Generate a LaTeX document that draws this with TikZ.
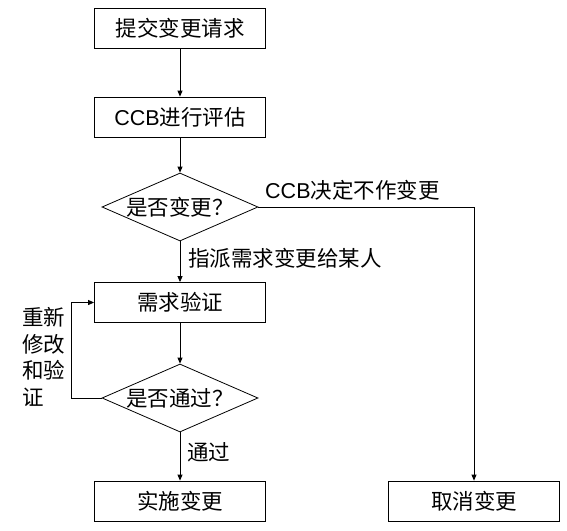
\documentclass[tikz,border=0pt]{standalone}
\usepackage{fontspec}
\setmainfont{Liberation Sans}
\newfontfamily\cjk{Noto Sans CJK SC}
\usetikzlibrary{arrows.meta,shapes.geometric}
\begin{document}
\begin{tikzpicture}[x=1pt,y=-1pt,
  every node/.style={font=\fontsize{21.5pt}{26.7pt}\selectfont},
  box/.style={draw,line width=0.8pt,minimum width=171pt,minimum height=40pt,inner sep=0pt},
  dia/.style={draw,line width=0.8pt,shape=diamond,aspect=2.3,minimum width=156pt,minimum height=68pt,inner sep=-2pt},
  arr/.style={draw,line width=0.8pt,-{Triangle[length=6pt,width=5pt]}},
  lab/.style={anchor=west,inner sep=0pt}]
\useasboundingbox (0,0) rectangle (567,530);
\node[box] (b1) at (180,28) {\cjk 提交变更请求};
\node[box] (b2) at (180,117) {CCB\cjk 进行评估};
\node[dia] (d1) at (180,207) {\cjk 是否变更？};
\node[box] (b3) at (180,302.5) {\cjk 需求验证};
\node[dia] (d2) at (180,398) {\cjk 是否通过？};
\node[box] (b4) at (180,501) {\cjk 实施变更};
\node[box] (b5) at (474,501) {\cjk 取消变更};
\draw[arr] (b1) -- (b2);
\draw[arr] (b2) -- (d1);
\draw[arr] (d1) -- (b3);
\draw[arr] (b3) -- (d2);
\draw[arr] (d2) -- (b4);
\draw[arr] (d1.east) -| (b5.north);
\draw[arr] (d2.west) -- ++(-30,0) |- (b3.west);
\node[lab] (l1) at (265,190) {CCB\cjk 决定不作变更};
\node[lab] (l2) at (188,258) {\cjk 指派需求变更给某人};
\node[lab] (l3) at (187,452) {\cjk 通过};
\node[anchor=west,inner sep=0pt,align=left] (l4) at (22,357) {\cjk 重新\\\cjk 修改\\\cjk 和验\\\cjk 证};
\end{tikzpicture}
\end{document}
